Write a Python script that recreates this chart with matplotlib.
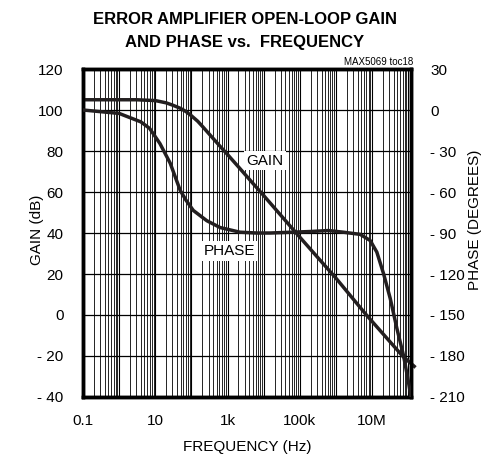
import numpy as np
import matplotlib
matplotlib.use("Agg")
import matplotlib.pyplot as plt
from matplotlib.ticker import LogLocator, NullFormatter

plt.rcParams['font.family'] = ['Liberation Sans Narrow', 'Liberation Sans', 'DejaVu Sans']

# open-loop gain (dB)
gain_freq = [0.1, 1, 3, 10, 20, 30, 50, 70, 100, 150, 200, 300, 500, 700,
             1e3, 2e3, 5e3, 1e4, 1e5, 1e6, 7e6, 7e7, 1.6e8]
gain_db = [105, 105, 105, 104.6, 103.5, 102.4, 100.8, 99.3, 97.2, 94.5, 92.1,
           88.6, 84.2, 81.3, 78.3, 72.3, 64.3, 58.3, 38, 18, 0, -20, -25.6]

# phase (degrees)
phase_freq = [0.1, 1, 4, 7, 13.5, 26, 49, 71, 113, 267, 624, 2.2e3, 6.4e3,
              1.5e4, 2e5, 6.2e5, 1.6e6, 4.7e6, 8.9e6, 1.36e7, 2.1e7, 3.2e7,
              4.9e7, 7.5e7, 1.02e8, 1.2e8]
phase_deg = [0, -2.5, -8.7, -13.5, -24.6, -39, -58.8, -66, -73.5, -81, -86,
             -89.4, -90, -90, -88.9, -88.2, -89.4, -91, -95.5, -104, -120,
             -138, -160, -180, -199, -210]

xtick_vals = [0.1, 10, 1e3, 1e5, 1e7]
xtick_text = ['0.1', '10', '1k', '100k', '10M']
gain_ticks = np.arange(-40, 121, 20)
phase_ticks = np.arange(-210, 31, 30)

ink = '#231f20'

fig = plt.figure(figsize=(4.95, 4.57), dpi=100)
ax = fig.add_axes([0.1677, 0.1313, 0.6626, 0.7177])

ax.set_xscale('log')
ax.set_xlim(0.1, 1.2e8)
ax.set_ylim(-40, 120)
ax.set_xticks(xtick_vals)
ax.set_xticklabels(xtick_text)
ax.xaxis.set_minor_locator(LogLocator(base=10, subs=np.arange(2, 10), numticks=200))
ax.xaxis.set_minor_formatter(NullFormatter())
ax.set_yticks(gain_ticks)
ax.set_yticklabels([f'{v:g}'.replace('-', '- ') for v in gain_ticks])

# dense log grid like the datasheet
for d in range(-1, 9):
    ax.axvline(10.0 ** d, color='black', lw=0.8, zorder=1)
ax.grid(True, which='minor', axis='x', color='black', lw=0.6)
ax.grid(True, which='major', axis='y', color='black', lw=0.9)

ax.tick_params(which='both', length=0)
ax.tick_params(axis='y', pad=14, labelsize=11)
ax.tick_params(axis='x', pad=12, labelsize=11)
for s in ax.spines.values():
    s.set_linewidth(2.5)

ax.plot(gain_freq, gain_db, color=ink, lw=2.5, zorder=5, clip_on=False,
        solid_capstyle='butt')

ax2 = ax.twinx()
ax2.set_ylim(-210, 30)
ax2.set_yticks(phase_ticks)
ax2.set_yticklabels([f'{v:g}'.replace('-', '- ') for v in phase_ticks])
ax2.tick_params(length=0, pad=14, labelsize=11)
for s in ax2.spines.values():
    s.set_linewidth(2.5)
ax2.plot(phase_freq, phase_deg, color=ink, lw=2.5, zorder=5)

box = dict(facecolor='white', edgecolor='none', pad=2)
ax2.text(1.1e4, -37, 'GAIN', fontsize=11, ha='center', va='center', bbox=box, zorder=6)
ax2.text(1.1e3, -103, 'PHASE', fontsize=11, ha='center', va='center', bbox=box, zorder=6)

ax.set_ylabel('GAIN (dB)', fontsize=11)
ax.yaxis.set_label_coords(-0.119, 0.51)
ax2.set_ylabel('PHASE (DEGREES)', fontsize=11)
ax2.yaxis.set_label_coords(1.174, 0.54)
ax.set_xlabel('FREQUENCY (Hz)', fontsize=11, labelpad=9)

fig.text(0.495, 0.958, 'ERROR AMPLIFIER OPEN-LOOP GAIN', fontsize=12,
         fontweight='bold', ha='center', va='center')
fig.text(0.495, 0.906, 'AND PHASE vs.  FREQUENCY', fontsize=12,
         fontweight='bold', ha='center', va='center')
fig.text(0.834, 0.853, 'MAX5069 toc18', fontsize=7, ha='right', va='bottom')

fig.savefig('out.png', dpi=100)
